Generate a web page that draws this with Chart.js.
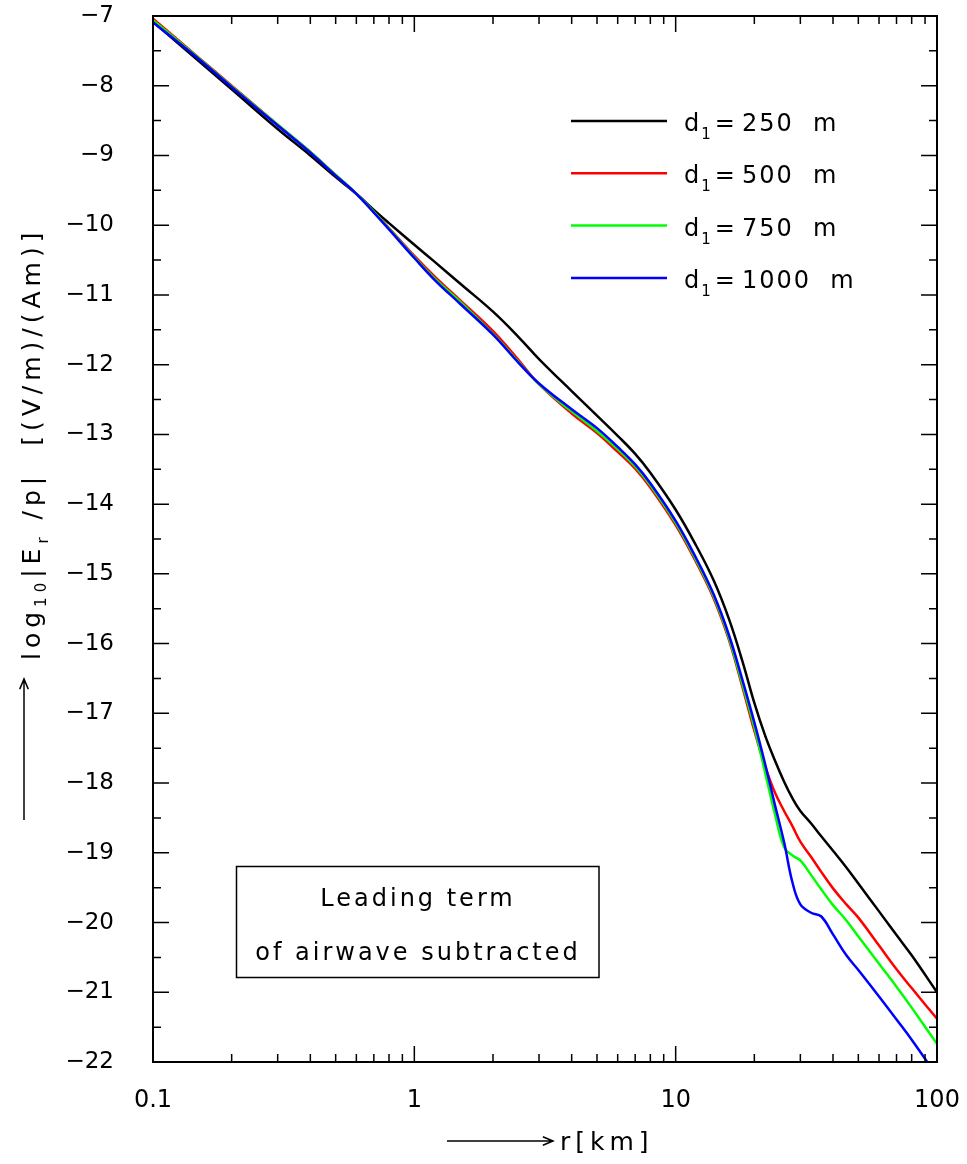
<!DOCTYPE html>
<html>
<head>
<meta charset="utf-8">
<script src="https://cdn.jsdelivr.net/npm/chart.js@4"></script>
<style>
  html, body { margin: 0; padding: 0; background: #fff; }
  canvas { display: block; }
</style>
</head>
<body>
<canvas id="chart" width="967" height="1164"></canvas>
<script>
// r in km
const rValues = [0.1, 0.15, 0.2, 0.3, 0.4, 0.5, 0.6, 0.7, 0.8, 1,
                 1.2, 1.5, 2, 2.5, 3, 4, 5, 6, 7, 8,
                 10, 12, 14, 16, 18, 20, 22, 24, 26, 28,
                 30, 33, 36, 40, 45, 50, 60, 70, 80, 100];

// log10 |Er/p| for each d1
const d250 = [-7.08, -7.65, -8.05, -8.62, -9.00, -9.31, -9.55, -9.78, -9.97, -10.28,
              -10.53, -10.84, -11.24, -11.60, -11.92, -12.38, -12.73, -13.02, -13.28, -13.55,
              -14.08, -14.60, -15.10, -15.65, -16.25, -16.85, -17.32, -17.68, -17.98, -18.22,
              -18.40, -18.58, -18.76, -18.97, -19.21, -19.44, -19.84, -20.18, -20.47, -21.00];
const d500 = [-7.04, -7.60, -8.00, -8.56, -8.95, -9.28, -9.55, -9.81, -10.04, -10.44,
              -10.74, -11.08, -11.52, -11.93, -12.28, -12.70, -12.98, -13.25, -13.49, -13.76,
              -14.30, -14.84, -15.36, -15.95, -16.62, -17.25, -17.76, -18.14, -18.40, -18.62,
              -18.84, -19.06, -19.27, -19.51, -19.74, -19.93, -20.33, -20.67, -20.94, -21.38];
const d750 = [-7.06, -7.61, -8.01, -8.56, -8.95, -9.28, -9.55, -9.81, -10.05, -10.46,
              -10.77, -11.10, -11.56, -11.96, -12.28, -12.67, -12.95, -13.21, -13.46, -13.73,
              -14.27, -14.81, -15.33, -15.92, -16.58, -17.20, -17.85, -18.45, -18.92, -19.04,
              -19.11, -19.32, -19.52, -19.75, -19.97, -20.20, -20.59, -20.92, -21.22, -21.74];
const d1000 = [-7.09, -7.62, -8.02, -8.57, -8.96, -9.29, -9.55, -9.82, -10.06, -10.47,
               -10.79, -11.13, -11.57, -11.97, -12.27, -12.64, -12.91, -13.18, -13.43, -13.70,
               -14.24, -14.78, -15.30, -15.88, -16.52, -17.13, -17.73, -18.32, -18.85, -19.43,
               -19.74, -19.86, -19.91, -20.17, -20.47, -20.68, -21.06, -21.39, -21.68, -22.20];

const seriesNames = ['250', '500', '750', '1000'];
const seriesColors = ['#000000', '#ff0000', '#00ff00', '#0000ff'];
const seriesData = [d250, d500, d750, d1000];

const xTickValues = [0.1, 1, 10, 100];
const xTickLabels = ['0.1', '1', '10', '100'];
const yMin = -22;
const yMax = -7;

const FONT = '"DejaVu Sans", sans-serif';

function drawParts(ctx, parts, x, y) {
  // parts: [text, size, dy, gapAfter]
  let cx = x;
  for (const [text, size, dy, gap] of parts) {
    ctx.font = size + 'px ' + FONT;
    ctx.fillText(text, cx, y + dy);
    cx += ctx.measureText(text).width + (gap || 0);
  }
}

function arrow(ctx, x1, y1, x2, y2) {
  const ang = Math.atan2(y2 - y1, x2 - x1);
  const h = 11;
  ctx.beginPath();
  ctx.moveTo(x1, y1);
  ctx.lineTo(x2, y2);
  ctx.moveTo(x2 - h * Math.cos(ang - 0.4), y2 - h * Math.sin(ang - 0.4));
  ctx.lineTo(x2, y2);
  ctx.lineTo(x2 - h * Math.cos(ang + 0.4), y2 - h * Math.sin(ang + 0.4));
  ctx.stroke();
}

function noPad(s) {
  s.paddingLeft = 0; s.paddingRight = 0; s.paddingTop = 0; s.paddingBottom = 0;
}

const framePlugin = {
  id: 'frame',
  afterDraw(chart) {
    const ctx = chart.ctx;
    const a = chart.chartArea;
    const x = chart.scales.x;
    const y = chart.scales.y;
    ctx.save();
    ctx.strokeStyle = '#000';
    ctx.fillStyle = '#000';
    ctx.lineWidth = 2;
    ctx.strokeRect(a.left, a.top, a.right - a.left, a.bottom - a.top);

    // inward ticks on all four sides
    ctx.lineWidth = 1.5;
    ctx.beginPath();
    for (let v = yMin; v <= yMax; v += 0.5) {
      const py = y.getPixelForValue(v);
      const len = Number.isInteger(v) ? 16 : 8;
      ctx.moveTo(a.left, py); ctx.lineTo(a.left + len, py);
      ctx.moveTo(a.right, py); ctx.lineTo(a.right - len, py);
    }
    for (let i = 0; i < xTickValues.length; i++) {
      const dec = xTickValues[i];
      for (let m = 1; m <= 9; m++) {
        if (i === xTickValues.length - 1 && m > 1) break;
        const px = x.getPixelForValue(dec * m);
        const len = m === 1 ? 16 : 8;
        ctx.moveTo(px, a.bottom); ctx.lineTo(px, a.bottom - len);
        ctx.moveTo(px, a.top); ctx.lineTo(px, a.top + len);
      }
    }
    ctx.stroke();

    // legend
    ctx.textBaseline = 'alphabetic';
    ctx.textAlign = 'left';
    ctx.letterSpacing = '2px';
    for (let i = 0; i < seriesNames.length; i++) {
      const ly = 121 + i * 52.3;
      ctx.strokeStyle = seriesColors[i];
      ctx.lineWidth = 2.5;
      ctx.beginPath();
      ctx.moveTo(571, ly); ctx.lineTo(667, ly);
      ctx.stroke();
      ctx.fillStyle = '#000';
      drawParts(ctx, [['d', 24, 0, 0], ['1', 15, 8, 2], ['=', 24, 0, 5],
                      [seriesNames[i], 24, 0, 0], ['  m', 24, 0, 0]], 684, ly + 10);
    }

    // annotation box
    ctx.strokeStyle = '#000';
    ctx.lineWidth = 1.5;
    ctx.strokeRect(236.5, 866.5, 362.5, 111);
    ctx.font = '24px ' + FONT;
    ctx.letterSpacing = '3px';
    ctx.textAlign = 'center';
    ctx.fillText('Leading term', 418, 906);
    ctx.fillText('of airwave subtracted', 418, 960);

    // x title
    ctx.textAlign = 'left';
    ctx.lineWidth = 1.5;
    arrow(ctx, 447, 1141, 553, 1141);
    ctx.font = '25px ' + FONT;
    ctx.letterSpacing = '5px';
    ctx.fillText('r[km]', 560, 1150);

    // y title (rotated)
    arrow(ctx, 24, 820, 24, 679);
    ctx.translate(40, 660);
    ctx.rotate(-Math.PI / 2);
    ctx.letterSpacing = '5px';
    drawParts(ctx, [['log', 25, 0, 0], ['10', 15, 6, 0], ['|E', 25, 0, 0], ['r', 15, 8, 0],
                    [' /p|  [(V/m)/(Am)]', 25, 0, 0]], 0, 0);
    ctx.restore();
  }
};

const datasets = seriesData.map((vals, i) => ({
  label: 'd1 = ' + seriesNames[i] + ' m',
  data: rValues.map((r, k) => ({ x: r, y: vals[k] })),
  borderColor: seriesColors[i],
  borderWidth: 2.5,
  pointRadius: 0,
  fill: false,
  tension: 0.4,
  order: seriesNames.length - i
}));

new Chart(document.getElementById('chart').getContext('2d'), {
  type: 'line',
  data: { datasets: datasets },
  options: {
    responsive: false,
    animation: false,
    layout: { padding: { top: 16, right: 30, left: 0, bottom: 0 } },
    plugins: { legend: { display: false }, tooltip: { enabled: false } },
    scales: {
      x: {
        type: 'logarithmic',
        min: 0.1,
        max: 100,
        grid: { display: false },
        border: { display: false },
        afterBuildTicks: s => { s.ticks = xTickValues.map(v => ({ value: v })); },
        afterFit: s => { s.height = 102; noPad(s); },
        ticks: {
          color: '#000',
          font: { family: FONT, size: 24 },
          padding: 16,
          maxRotation: 0,
          autoSkip: false,
          callback: v => xTickLabels[xTickValues.indexOf(v)]
        }
      },
      y: {
        type: 'linear',
        min: yMin,
        max: yMax,
        grid: { display: false },
        border: { display: false },
        afterFit: s => { s.width = 153; noPad(s); },
        ticks: {
          color: '#000',
          font: { family: FONT, size: 23 },
          padding: 31,
          stepSize: 1,
          callback: v => (v < 0 ? '\u2212' : '') + Math.abs(v)
        }
      }
    }
  },
  plugins: [framePlugin]
});
</script>
</body>
</html>
